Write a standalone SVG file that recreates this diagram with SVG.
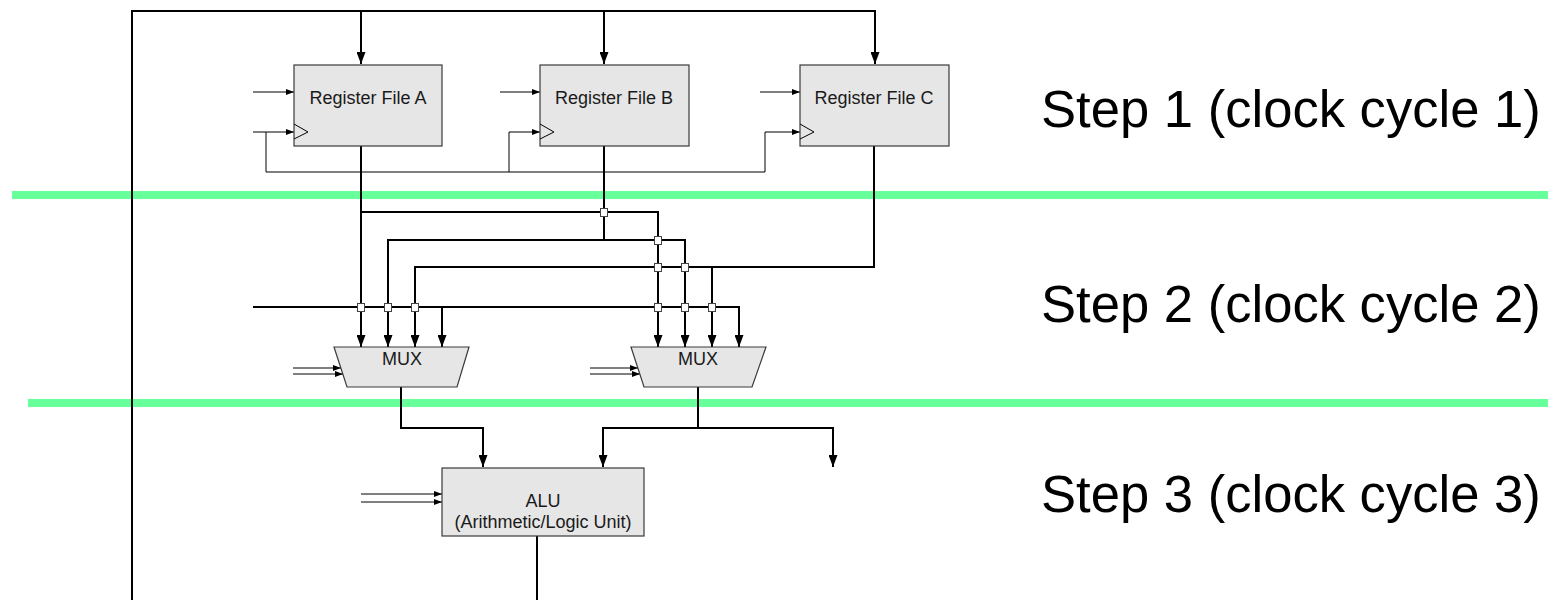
<svg xmlns="http://www.w3.org/2000/svg" width="1553" height="600" viewBox="0 0 1553 600">
<style>
.w{fill:none;stroke:#000;stroke-width:2}
.t{fill:none;stroke:#000;stroke-width:1}
.box{fill:#e6e6e6;stroke:#3a3a3a;stroke-width:1.2}
.lbl{font-family:"Liberation Sans",Arial,sans-serif;font-size:18px;fill:#1a1a1a;text-anchor:middle}
.step{font-family:"Liberation Sans",Arial,sans-serif;font-size:52.6px;fill:#000}
.green{stroke:#66ff99;stroke-width:8}
.x{fill:#fff;stroke:#444;stroke-width:1}
</style>
<defs>
<marker id="ab" markerUnits="userSpaceOnUse" markerWidth="12" markerHeight="9" refX="12" refY="4.5" orient="auto"><path d="M0,0 L12,4.5 L0,9 z" fill="#000"/></marker>
<marker id="as" markerUnits="userSpaceOnUse" markerWidth="8" markerHeight="6" refX="8" refY="3" orient="auto"><path d="M0,0 L8,3 L0,6 z" fill="#000"/></marker>
</defs>
<g id="separators">
<line class="green" x1="12" y1="195" x2="1548" y2="195"/>
<line class="green" x1="28" y1="403" x2="1548" y2="403"/>
</g>
<g id="connectors">
<polyline class="w" points="132,600 132,11 875,11 875,64" marker-end="url(#ab)"/>
<line class="w" x1="361" y1="11" x2="361" y2="64" marker-end="url(#ab)"/>
<line class="w" x1="604" y1="11" x2="604" y2="64" marker-end="url(#ab)"/>
<line class="t" x1="253" y1="92" x2="294" y2="92" marker-end="url(#as)"/>
<line class="t" x1="500" y1="92" x2="540" y2="92" marker-end="url(#as)"/>
<line class="t" x1="760" y1="92" x2="800" y2="92" marker-end="url(#as)"/>
<line class="t" x1="253" y1="132" x2="294" y2="132" marker-end="url(#as)"/>
<polyline class="t" points="266,132 266,172 765,172"/>
<polyline class="t" points="509,172 509,132 540,132" marker-end="url(#as)"/>
<polyline class="t" points="765,172 765,132 800,132" marker-end="url(#as)"/>
<line class="w" x1="361" y1="146" x2="361" y2="347" marker-end="url(#ab)"/>
<polyline class="w" points="361,212 658,212 658,347" marker-end="url(#ab)"/>
<line class="w" x1="604" y1="146" x2="604" y2="240"/>
<polyline class="w" points="388,347 388,240 685,240 685,347" marker-end="url(#ab)"/>
<line class="w" x1="388" y1="240" x2="388" y2="347" marker-end="url(#ab)"/>
<polyline class="w" points="874,146 874,267 415,267 415,347" marker-end="url(#ab)"/>
<line class="w" x1="712" y1="267" x2="712" y2="347" marker-end="url(#ab)"/>
<polyline class="w" points="253,307 739,307 739,347" marker-end="url(#ab)"/>
<line class="w" x1="442" y1="307" x2="442" y2="347" marker-end="url(#ab)"/>
<line class="t" x1="293" y1="368" x2="341" y2="368" marker-end="url(#as)"/>
<line class="t" x1="293" y1="374" x2="343" y2="374" marker-end="url(#as)"/>
<line class="t" x1="590" y1="368" x2="638" y2="368" marker-end="url(#as)"/>
<line class="t" x1="590" y1="374" x2="640" y2="374" marker-end="url(#as)"/>
<polyline class="w" points="401,387 401,428 483,428 483,467" marker-end="url(#ab)"/>
<line class="w" x1="698" y1="387" x2="698" y2="428"/>
<polyline class="w" points="603,467 603,428 833,428 833,467" marker-end="url(#ab)"/>
<line class="w" x1="603" y1="428" x2="603" y2="467" marker-end="url(#ab)"/>
<line class="t" x1="361" y1="494" x2="442" y2="494" marker-end="url(#as)"/>
<line class="t" x1="361" y1="502" x2="442" y2="502" marker-end="url(#as)"/>
<line class="w" x1="537" y1="536" x2="537" y2="600"/>
<line class="w" x1="132" y1="180" x2="132" y2="420"/>
<rect class="x" x="600.5" y="208.5" width="7" height="8"/>
<rect class="x" x="654.5" y="236.5" width="7" height="8"/>
<rect class="x" x="654.5" y="263.5" width="7" height="8"/>
<rect class="x" x="681.5" y="263.5" width="7" height="8"/>
<rect class="x" x="357.5" y="303.5" width="7" height="8"/>
<rect class="x" x="384.5" y="303.5" width="7" height="8"/>
<rect class="x" x="411.5" y="303.5" width="7" height="8"/>
<rect class="x" x="654.5" y="303.5" width="7" height="8"/>
<rect class="x" x="681.5" y="303.5" width="7" height="8"/>
<rect class="x" x="708.5" y="303.5" width="7" height="8"/>
</g>
<g id="regA">
<rect class="box" x="294" y="65" width="148" height="81"/>
<polyline class="t" points="294,124 308,132 294,139"/>
<text class="lbl" x="368" y="104">Register File A</text>
</g>
<g id="regB">
<rect class="box" x="540" y="65" width="149" height="81"/>
<polyline class="t" points="540,124 554,132 540,139"/>
<text class="lbl" x="614" y="104">Register File B</text>
</g>
<g id="regC">
<rect class="box" x="800" y="65" width="149" height="81"/>
<polyline class="t" points="800,124 814,132 800,139"/>
<text class="lbl" x="874" y="104">Register File C</text>
</g>
<g id="mux1">
<polygon class="box" points="334,347 469,347 457,387 347,387"/>
<text class="lbl" x="402" y="365">MUX</text>
</g>
<g id="mux2">
<polygon class="box" points="631,347 766,347 752,387 644,387"/>
<text class="lbl" x="698" y="365">MUX</text>
</g>
<g id="alu">
<rect class="box" x="442" y="468" width="202" height="68"/>
<text class="lbl" x="543" y="507">ALU</text>
<text class="lbl" x="543" y="528">(Arithmetic/Logic Unit)</text>
</g>
<g id="labels">
<text class="step" x="1041" y="127">Step 1 (clock cycle 1)</text>
<text class="step" x="1041" y="322">Step 2 (clock cycle 2)</text>
<text class="step" x="1041" y="512">Step 3 (clock cycle 3)</text>
</g>
</svg>
